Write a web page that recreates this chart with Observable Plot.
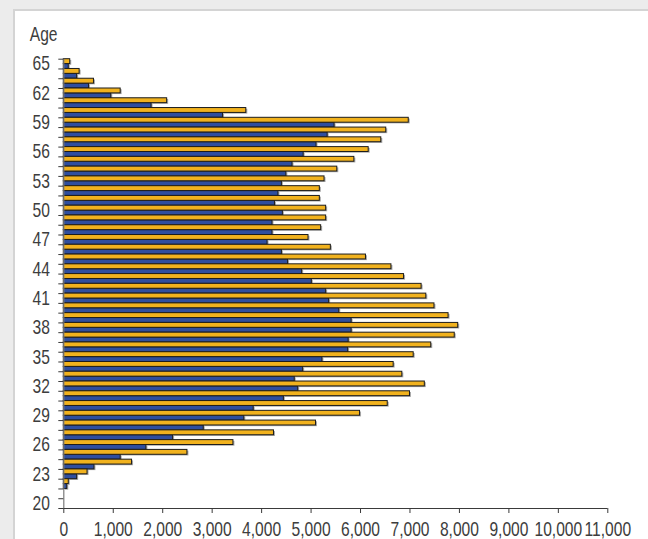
<!DOCTYPE html>
<html><head><meta charset="utf-8">
<script src="https://cdn.jsdelivr.net/npm/d3@7"></script>
<script src="https://cdn.jsdelivr.net/npm/@observablehq/plot@0.6"></script>
<style>
html,body{margin:0;padding:0;width:648px;height:539px;overflow:hidden;background:#ececec;}
#panel{position:absolute;left:13px;top:9px;width:650px;height:550px;background:#fff;border-left:2px solid #d4d4d4;border-top:2px solid #d4d4d4;}
#chart{position:absolute;left:0;top:0;}
</style></head><body>
<div id="panel"></div><div id="chart"></div>
<script>
const ages = [20,21,22,23,24,25,26,27,28,29,30,31,32,33,34,35,36,37,38,39,40,41,42,43,44,45,46,47,48,49,50,51,52,53,54,55,56,57,58,59,60,61,62,63,64,65];
const blueValues = [0,0,70,270,620,1150,1670,2210,2830,3650,3840,4450,4740,4670,4840,5230,5750,5760,5820,5820,5570,5365,5305,5015,4820,4535,4410,4120,4220,4220,4430,4270,4340,4410,4500,4625,4850,5110,5335,5475,3220,1775,960,510,270,100];
const orangeValues = [0,0,100,480,1380,2500,3430,4250,5100,5990,6550,7000,7300,6845,6670,7075,7430,7905,7975,7780,7495,7330,7235,6880,6625,6110,5400,4948,5204,5305,5305,5177,5177,5272,5530,5875,6165,6420,6520,6975,3690,2090,1150,610,320,130];
const ageTicks = [20,23,26,29,32,35,38,41,44,47,50,53,56,59,62,65];
const xTicks = [0,1000,2000,3000,4000,5000,6000,7000,8000,9000,10000,11000];
const axisTitle = "Age";

const blueRows = ages.map((a, i) => ({age: a, value: blueValues[i]}));
const orangeRows = ages.map((a, i) => ({age: a, value: orangeValues[i]}));
const bandEdges = ages.map(a => a - 0.5).concat([ages[ages.length - 1] + 0.5]);
const nonZero = d => d.value > 0;

const blueBand = {x1: 0, x2: "value", y1: d => d.age - 0.5, y2: d => d.age, filter: nonZero};
const orangeBand = {x1: 0, x2: "value", y1: d => d.age, y2: d => d.age + 0.5, filter: nonZero};

const chart = Plot.plot({
  width: 648,
  height: 539,
  marginLeft: 63.3,
  marginRight: 40.7,
  marginTop: 58.7,
  marginBottom: 31,
  x: {domain: [0, 11000]},
  y: {domain: [19.5, 65.5]},
  style: {background: "transparent", fontFamily: "'Liberation Sans', Arial, sans-serif", fontSize: "20px", color: "#3d3d3d"},
  marks: [
    Plot.rect(blueRows, {...blueBand, fill: "#a9a9a9", dx: 1.5, dy: 1.2}),
    Plot.rect(orangeRows, {...orangeBand, fill: "#a9a9a9", dx: 1.5, dy: 1.2}),
    Plot.rect(blueRows, {...blueBand, fill: "#2f4e9e", stroke: "#1c1c1c", strokeWidth: 1}),
    Plot.rect(orangeRows, {...orangeBand, fill: "#f1b21e", stroke: "#1c1c1c", strokeWidth: 1}),
    Plot.ruleX([0], {stroke: "#7a7a7a", strokeWidth: 1.2}),
    Plot.ruleY([19.5], {stroke: "#3a3a3a", strokeWidth: 1.2}),
    Plot.axisX({ticks: xTicks, tickFormat: d3.format(","), tickSize: 5, tickPadding: 8, label: null, stroke: "#3a3a3a"}),
    Plot.axisY({ticks: ageTicks, tickSize: 0, tickPadding: 14, label: null}),
    Plot.axisY({ticks: bandEdges, tickSize: 5, tickFormat: () => "", label: null, stroke: "#3a3a3a"}),
    Plot.text([axisTitle], {frameAnchor: "top-left", textAnchor: "start", lineAnchor: "middle", dx: -34, dy: -25})
  ]
});
// condense the lettering horizontally around each text's anchor point
for (const t of chart.querySelectorAll("text")) {
  const xa = t.getAttribute("x");
  const numeric = xa && /^-?[\d.]+$/.test(xa);
  const x = numeric ? +xa : 0;
  if (numeric) t.removeAttribute("x");
  const tr = t.getAttribute("transform") || "";
  t.setAttribute("transform", `${tr} translate(${x},0) scale(0.78,1)`);
}
document.getElementById("chart").appendChild(chart);
</script>
</body></html>
